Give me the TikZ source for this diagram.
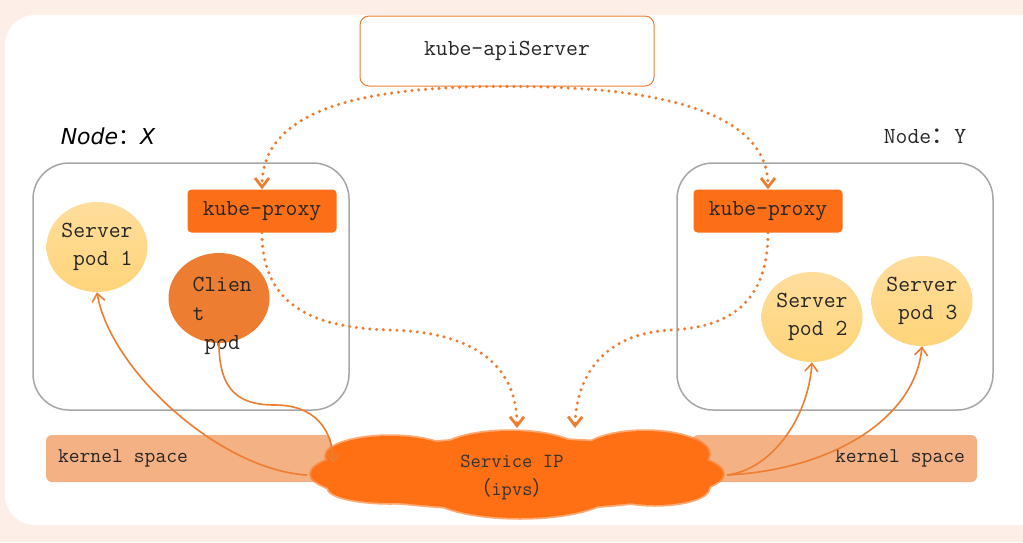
\documentclass[tikz,border=0pt]{standalone}
\usepackage{fontspec}
\newfontfamily\cjk{Noto Sans CJK SC}
\newfontfamily\handfont{DejaVu Sans}
\usepackage{tikz}
\usetikzlibrary{arrows.meta,shapes.geometric}
\definecolor{peachbg}{HTML}{FDEFE7}
\definecolor{lineorange}{HTML}{ED7D31}
\definecolor{proxyorange}{HTML}{FD6F17}
\definecolor{cloudorange}{HTML}{FF7014}
\definecolor{kernelpeach}{HTML}{F4B183}
\definecolor{podtop}{HTML}{FFDD9C}
\definecolor{podbot}{HTML}{FFD57A}
\definecolor{clientorange}{HTML}{ED7D31}
\definecolor{boxgray}{HTML}{A6A6A6}
\newcommand{\msp}{\hspace{0.525em}}
\newcommand{\cloudblobs}{%
  \path (517,474) ellipse [x radius=206, y radius=35];
  \path (390,456) ellipse [x radius=64, y radius=20];
  \path (510,455) ellipse [x radius=74, y radius=24];
  \path (645,454) ellipse [x radius=64, y radius=23];
  \path (520,490) ellipse [x radius=95, y radius=28];
  \path (390,488) ellipse [x radius=62, y radius=15];
  \path (655,488) ellipse [x radius=54, y radius=17];}
\tikzset{
  monotext/.style={font=\ttfamily\fontsize{23}{28}\selectfont, text=black!85},
  apibox/.style={
    monotext, draw=lineorange, line width=1pt, fill=white, rounded corners=9pt,
    minimum width=294pt, minimum height=70pt},
  hostbox/.style={draw=boxgray, line width=1.5pt, rounded corners=36pt},
  proxybox/.style={
    monotext, fill=proxyorange, rounded corners=4pt,
    minimum width=149pt, minimum height=43pt},
  serverpod/.style={
    monotext, ellipse, top color=podtop, bottom color=podbot, draw=none,
    minimum width=101pt, minimum height=90pt, align=right, inner sep=0pt},
  clientpod/.style={
    ellipse, fill=clientorange, minimum width=101pt, minimum height=90pt},
  kernelbox/.style={
    monotext, font=\ttfamily\fontsize{21}{26}\selectfont, fill=kernelpeach,
    rounded corners=6pt, minimum width=285pt, minimum height=47pt, inner xsep=12pt},
  watchline/.style={
    draw=lineorange, line width=3.4pt, line cap=round, dash pattern=on 0pt off 6.8pt,
    -{Straight Barb[length=9pt,width=14pt,line width=2.8pt]}},
  flowline/.style={
    draw=lineorange, line width=1.6pt,
    -{Straight Barb[length=8pt,width=13pt,line width=1.6pt]}},
}
\begin{document}
\begin{tikzpicture}[x=1pt,y=-1pt]
  \useasboundingbox (0,0) rectangle (1023,542);
  \clip (0,0) rectangle (1023,542);
  % background card
  \fill[peachbg] (0,0) rectangle (1023,542);
  \fill[white, rounded corners=30pt] (5,15) rectangle (1060,525);

  % hosts
  \draw[hostbox] (33,163) rectangle (349,410);
  \draw[hostbox] (677,163) rectangle (993,410);
  \node[font=\handfont\itshape\fontsize{22}{24}\selectfont] (nx) at (108,136) {Node{\cjk：}X};
  \node[monotext] (ny) at (925,136) {Node{\cjk：}Y};

  % control plane
  \node[apibox] (api) at (507,51) {kube-apiServer};
  \node[proxybox] (pxl) at (262,211) {kube-proxy};
  \node[proxybox] (pxr) at (768,211) {kube-proxy};

  % pods
  \node[serverpod] (pod1) at (97,247) {Server\\pod\msp1};
  \node[clientpod] (cli) at (219,298) {};
  \node[monotext, font=\ttfamily\fontsize{23}{29}\selectfont, align=left, anchor=north west]
    (clitext) at (189,274) {Clien\\t\\\phantom{x}pod};
  \node[serverpod] (pod2) at (812,317) {Server\\pod\msp2};
  \node[serverpod] (pod3) at (922,301) {Server\\pod\msp3};

  % kernel space
  \node[kernelbox, align=left, text width=261pt] (ksl) at (188.5,458.5) {kernel\msp space};
  \node[kernelbox, align=right, text width=261pt] (ksr) at (834.5,458.5) {kernel\msp space};

  % service ip cloud, soft edge first
  \begin{scope}[transparency group, opacity=0.6]
    \begin{scope}[every path/.append style={fill=cloudorange, draw=cloudorange, line width=3.5pt}]
      \cloudblobs
    \end{scope}
  \end{scope}
  \begin{scope}[every path/.append style={fill=cloudorange}]
    \cloudblobs
  \end{scope}
  \node[monotext, font=\ttfamily\fontsize{20}{28}\selectfont, text=black!80, align=center]
    (svc) at (512,477) {Service\msp IP\\{\cjk（}ipvs{\cjk）}};
  \coordinate (svcin1) at (517,428);
  \coordinate (svcin2) at (575,428);
  \coordinate (svcin3) at (333,463);
  \coordinate (svcout1) at (307,475);
  \coordinate (svcout2) at (727,475);

  % watch / program
  \draw[watchline] (api.south) .. controls (360,86) and (262,110) .. (pxl.north);
  \draw[watchline] (api.south) .. controls (654,86) and (768,110) .. (pxr.north);
  \draw[watchline] (pxl.south) .. controls (262,310) and (320,328) .. (390,330)
    .. controls (480,332) and (517,370) .. (svcin1);
  \draw[watchline] (pxr.south) .. controls (768,310) and (720,328) .. (670,330)
    .. controls (600,334) and (576,380) .. (svcin2);

  % traffic
  \draw[flowline] (cli.south) .. controls (219,392) and (240,405) .. (275,405)
    .. controls (315,405) and (333,430) .. (svcin3);
  \draw[flowline] (svcout1) .. controls (220,470) and (110,370) .. (pod1.south);
  \draw[flowline] (svcout2) .. controls (770,470) and (808,420) .. (pod2.south);
  \draw[flowline] (svcout2) .. controls (830,470) and (915,420) .. (pod3.south);
\end{tikzpicture}
\end{document}
